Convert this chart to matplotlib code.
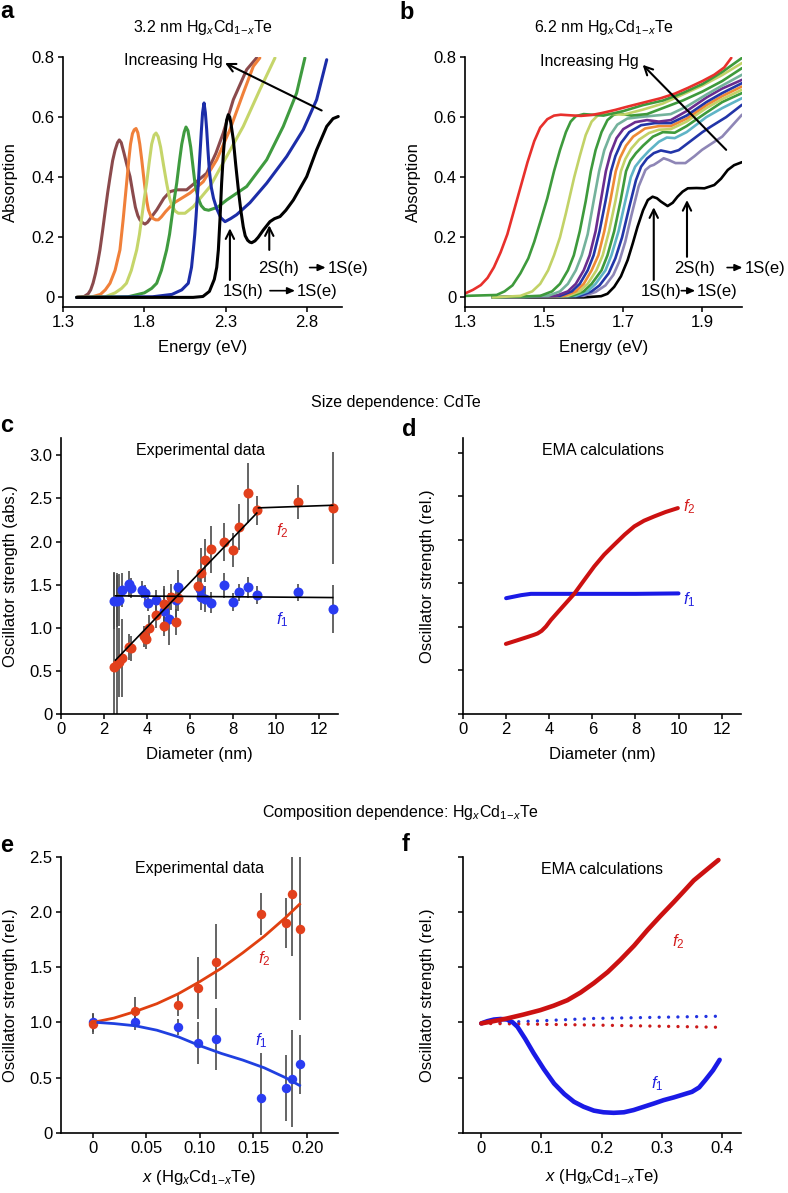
import matplotlib
matplotlib.use('Agg')
import matplotlib.pyplot as plt
from matplotlib.transforms import offset_copy

plt.rcParams['font.family'] = ['Liberation Sans', 'DejaVu Sans']
plt.rcParams['mathtext.fontset'] = 'custom'
plt.rcParams['mathtext.rm'] = 'Liberation Sans'
plt.rcParams['mathtext.it'] = 'Liberation Sans:italic'
plt.rcParams['mathtext.bf'] = 'Liberation Sans:bold'
plt.rcParams['axes.linewidth'] = 1.2

# ---- a: 3.2 nm absorption spectra (energy eV, absorption) ----
a_brown_E = [1.384, 1.43, 1.455, 1.47, 1.485, 1.50, 1.513, 1.527, 1.543, 1.56, 1.575, 1.589, 1.605, 1.62, 1.635,
             1.646, 1.658, 1.675, 1.693, 1.712, 1.73, 1.745, 1.76, 1.773, 1.79, 1.804, 1.82, 1.84, 1.876, 1.92,
             1.958, 2.0, 2.06, 2.12, 2.183, 2.24, 2.285, 2.347, 2.429, 2.49]
a_brown_A = [0.0, 0.003, 0.012, 0.025, 0.048, 0.08, 0.115, 0.158, 0.22, 0.29, 0.35, 0.40, 0.455, 0.49, 0.515,
             0.524, 0.515, 0.48, 0.44, 0.402, 0.345, 0.30, 0.272, 0.258, 0.248, 0.244, 0.25, 0.265, 0.291, 0.33,
             0.352, 0.358, 0.358, 0.385, 0.413, 0.48, 0.547, 0.658, 0.758, 0.797]
a_orange_E = [1.384, 1.48, 1.53, 1.56, 1.589, 1.62, 1.65, 1.67, 1.691, 1.705, 1.715, 1.727, 1.738, 1.749, 1.76,
              1.772, 1.784, 1.795, 1.805, 1.815, 1.825, 1.84, 1.855, 1.87, 1.886, 1.905, 1.93, 1.978, 2.08, 2.162,
              2.245, 2.326, 2.408, 2.47, 2.51]
a_orange_A = [0.0, 0.002, 0.01, 0.025, 0.047, 0.09, 0.158, 0.26, 0.38, 0.46, 0.51, 0.545, 0.558, 0.562, 0.548,
              0.51, 0.458, 0.405, 0.36, 0.32, 0.291, 0.27, 0.262, 0.258, 0.258, 0.268, 0.285, 0.313, 0.347, 0.385,
              0.458, 0.558, 0.68, 0.769, 0.797]
a_yg_E = [1.384, 1.56, 1.62, 1.66, 1.69, 1.72, 1.753, 1.77, 1.785, 1.80, 1.814, 1.83, 1.845, 1.86, 1.872, 1.885,
          1.90, 1.918, 1.937, 1.955, 1.97, 1.99, 2.009, 2.05, 2.101, 2.204, 2.306, 2.408, 2.51, 2.603]
a_yg_A = [0.0, 0.002, 0.015, 0.03, 0.047, 0.09, 0.158, 0.21, 0.27, 0.33, 0.38, 0.45, 0.51, 0.54, 0.547, 0.535,
          0.50, 0.44, 0.38, 0.33, 0.305, 0.287, 0.28, 0.28, 0.302, 0.369, 0.469, 0.569, 0.691, 0.797]
a_green_E = [1.384, 1.70, 1.80, 1.845, 1.876, 1.905, 1.937, 1.955, 1.97, 1.985, 1.999, 2.015, 2.03, 2.045, 2.056,
             2.068, 2.085, 2.098, 2.111, 2.13, 2.15, 2.17, 2.195, 2.25, 2.306, 2.429, 2.552, 2.654, 2.736, 2.787]
a_green_A = [0.0, 0.002, 0.015, 0.03, 0.047, 0.09, 0.158, 0.21, 0.27, 0.33, 0.38, 0.45, 0.51, 0.55, 0.567,
             0.555, 0.50, 0.44, 0.38, 0.33, 0.305, 0.293, 0.29, 0.30, 0.324, 0.369, 0.458, 0.569, 0.68, 0.797]
a_blue_E = [1.384, 1.85, 1.97, 2.03, 2.07, 2.09, 2.101, 2.11, 2.118, 2.125, 2.132, 2.14, 2.15, 2.158, 2.167,
            2.175, 2.183, 2.191, 2.20, 2.212, 2.225, 2.245, 2.27, 2.296, 2.33, 2.367, 2.449, 2.552, 2.675, 2.777,
            2.859, 2.921]
a_blue_A = [0.0, 0.002, 0.01, 0.025, 0.047, 0.1, 0.158, 0.21, 0.27, 0.33, 0.38, 0.46, 0.55, 0.615, 0.647,
            0.615, 0.56, 0.49, 0.42, 0.365, 0.33, 0.295, 0.265, 0.252, 0.262, 0.275, 0.315, 0.38, 0.469, 0.558,
            0.658, 0.791]
a_black_E = [1.384, 2.10, 2.16, 2.20, 2.23, 2.245, 2.255, 2.265, 2.275, 2.286, 2.296, 2.306, 2.316, 2.325, 2.332,
             2.347, 2.362, 2.378, 2.393, 2.408, 2.42, 2.435, 2.448, 2.46, 2.48, 2.50, 2.531, 2.572, 2.60, 2.634,
             2.67, 2.716, 2.798, 2.859, 2.921, 2.96, 2.992]
a_black_A = [0.0, 0.0, 0.003, 0.02, 0.06, 0.1, 0.158, 0.26, 0.38, 0.48, 0.547, 0.59, 0.608, 0.6, 0.58, 0.524,
             0.44, 0.358, 0.29, 0.235, 0.205, 0.19, 0.184, 0.182, 0.188, 0.2, 0.224, 0.252, 0.262, 0.269, 0.29,
             0.324, 0.402, 0.491, 0.569, 0.595, 0.602]

# ---- b: 6.2 nm absorption spectra ----
b_red_E = [1.30, 1.32, 1.34, 1.357, 1.373, 1.39, 1.407, 1.424, 1.441, 1.458, 1.475, 1.49, 1.508, 1.525, 1.542,
           1.565, 1.593, 1.62, 1.644, 1.68, 1.711, 1.75, 1.795, 1.83, 1.863, 1.90, 1.93, 1.955, 1.973]
b_red_A = [0.013, 0.025, 0.041, 0.065, 0.10, 0.15, 0.21, 0.29, 0.37, 0.45, 0.52, 0.565, 0.593, 0.605, 0.608,
           0.606, 0.604, 0.607, 0.613, 0.624, 0.635, 0.648, 0.663, 0.678, 0.697, 0.72, 0.741, 0.765, 0.797]
b_green1_E = [1.30, 1.38, 1.40, 1.42, 1.44, 1.46, 1.475, 1.49, 1.508, 1.525, 1.54, 1.555, 1.567, 1.58, 1.60,
              1.65, 1.70, 1.75, 1.80, 1.85, 1.90, 1.95, 2.0]
b_green1_A = [0.005, 0.008, 0.02, 0.04, 0.08, 0.13, 0.185, 0.25, 0.33, 0.42, 0.49, 0.55, 0.585, 0.603, 0.61,
              0.605, 0.62, 0.64, 0.655, 0.68, 0.71, 0.75, 0.797]
b_yg1_E = [1.37, 1.44, 1.47, 1.49, 1.51, 1.525, 1.54, 1.555, 1.576, 1.59, 1.605, 1.62, 1.635, 1.65, 1.70, 1.75,
           1.80, 1.85, 1.90, 1.95, 2.0]
b_yg1_A = [0.0, 0.005, 0.02, 0.045, 0.09, 0.14, 0.2, 0.28, 0.40, 0.47, 0.54, 0.585, 0.605, 0.612, 0.608, 0.625,
           0.645, 0.675, 0.705, 0.74, 0.78]
b_green2_E = [1.37, 1.49, 1.52, 1.54, 1.56, 1.575, 1.59, 1.605, 1.618, 1.63, 1.645, 1.66, 1.675, 1.69, 1.72,
              1.76, 1.80, 1.85, 1.90, 1.95, 2.0]
b_green2_A = [0.0, 0.005, 0.02, 0.045, 0.09, 0.14, 0.22, 0.32, 0.42, 0.49, 0.55, 0.59, 0.607, 0.612, 0.605,
              0.61, 0.63, 0.655, 0.685, 0.72, 0.763]
b_sage_E = [1.37, 1.51, 1.54, 1.56, 1.58, 1.595, 1.61, 1.625, 1.639, 1.652, 1.667, 1.685, 1.71, 1.74, 1.78,
            1.82, 1.86, 1.91, 1.95, 2.0]
b_sage_A = [0.0, 0.005, 0.02, 0.045, 0.09, 0.14, 0.21, 0.32, 0.42, 0.49, 0.54, 0.575, 0.595, 0.60, 0.605, 0.61,
            0.635, 0.675, 0.705, 0.741]
b_purple_E = [1.37, 1.53, 1.56, 1.58, 1.60, 1.615, 1.63, 1.643, 1.656, 1.668, 1.683, 1.70, 1.73, 1.76, 1.79,
              1.82, 1.86, 1.91, 1.95, 2.0]
b_purple_A = [0.0, 0.005, 0.02, 0.045, 0.09, 0.14, 0.22, 0.32, 0.42, 0.48, 0.53, 0.56, 0.583, 0.59, 0.585,
              0.59, 0.62, 0.665, 0.695, 0.724]
b_blue1_E = [1.37, 1.54, 1.57, 1.59, 1.61, 1.625, 1.64, 1.655, 1.669, 1.68, 1.695, 1.715, 1.745, 1.78, 1.82,
             1.86, 1.91, 1.95, 2.0]
b_blue1_A = [0.0, 0.005, 0.02, 0.045, 0.09, 0.14, 0.22, 0.32, 0.42, 0.47, 0.515, 0.55, 0.573, 0.58, 0.58,
             0.605, 0.65, 0.68, 0.713]
b_orange_E = [1.37, 1.55, 1.58, 1.60, 1.62, 1.637, 1.652, 1.667, 1.681, 1.692, 1.707, 1.725, 1.755, 1.79, 1.82,
              1.86, 1.91, 1.95, 2.0]
b_orange_A = [0.0, 0.005, 0.02, 0.045, 0.09, 0.14, 0.22, 0.32, 0.42, 0.465, 0.505, 0.535, 0.562, 0.57, 0.57,
              0.595, 0.64, 0.67, 0.702]
b_yg2_E = [1.37, 1.56, 1.59, 1.61, 1.632, 1.648, 1.664, 1.68, 1.694, 1.705, 1.72, 1.74, 1.765, 1.79, 1.82, 1.86,
           1.91, 1.95, 2.0]
b_yg2_A = [0.0, 0.005, 0.02, 0.045, 0.09, 0.14, 0.22, 0.32, 0.42, 0.46, 0.495, 0.525, 0.547, 0.558, 0.56, 0.585,
           0.63, 0.66, 0.691]
b_green3_E = [1.37, 1.57, 1.60, 1.62, 1.645, 1.66, 1.677, 1.693, 1.707, 1.718, 1.732, 1.75, 1.775, 1.80, 1.83,
              1.86, 1.91, 1.95, 2.0]
b_green3_A = [0.0, 0.005, 0.02, 0.045, 0.09, 0.14, 0.22, 0.32, 0.42, 0.455, 0.48, 0.505, 0.535, 0.55, 0.548,
              0.57, 0.615, 0.65, 0.68]
b_teal_E = [1.37, 1.58, 1.61, 1.63, 1.655, 1.67, 1.688, 1.705, 1.719, 1.73, 1.745, 1.765, 1.79, 1.81, 1.83, 1.86,
            1.91, 1.95, 2.0]
b_teal_A = [0.0, 0.005, 0.02, 0.045, 0.09, 0.14, 0.22, 0.32, 0.40, 0.435, 0.46, 0.488, 0.518, 0.532, 0.53, 0.55,
            0.60, 0.63, 0.663]
b_blue2_E = [1.37, 1.59, 1.62, 1.64, 1.663, 1.68, 1.697, 1.715, 1.732, 1.745, 1.76, 1.777, 1.795, 1.82, 1.84,
             1.863, 1.90, 1.922, 1.96, 2.0]
b_blue2_A = [0.0, 0.005, 0.02, 0.04, 0.08, 0.13, 0.2, 0.3, 0.39, 0.435, 0.462, 0.48, 0.489, 0.482, 0.49, 0.513,
             0.55, 0.569, 0.60, 0.641]
b_lav_E = [1.37, 1.60, 1.63, 1.655, 1.675, 1.69, 1.705, 1.72, 1.739, 1.756, 1.768, 1.777, 1.79, 1.802, 1.815,
           1.832, 1.857, 1.88, 1.899, 1.95, 2.0]
b_lav_A = [0.0, 0.005, 0.018, 0.04, 0.075, 0.12, 0.185, 0.27, 0.37, 0.424, 0.437, 0.441, 0.452, 0.463, 0.457,
           0.447, 0.447, 0.47, 0.491, 0.535, 0.608]
b_black_E = [1.37, 1.60, 1.644, 1.66, 1.677, 1.694, 1.711, 1.724, 1.736, 1.75, 1.762, 1.774, 1.785, 1.795, 1.812,
             1.825, 1.837, 1.85, 1.863, 1.885, 1.905, 1.93, 1.947, 1.964, 1.98, 2.0]
b_black_A = [0.0, 0.0, 0.004, 0.012, 0.035, 0.07, 0.124, 0.18, 0.235, 0.29, 0.324, 0.335, 0.33, 0.319, 0.304,
             0.315, 0.335, 0.352, 0.363, 0.364, 0.363, 0.374, 0.395, 0.424, 0.44, 0.45]

# ---- c: size dependence, experimental (diameter nm) ----
c_f2_d = [2.46, 2.62, 2.72, 2.85, 3.17, 3.25, 3.87, 3.95, 4.08, 4.42, 4.78, 4.78, 5.13, 5.36, 5.44, 6.38, 6.54,
          6.72, 6.97, 7.59, 8.02, 8.29, 8.70, 9.15, 11.03, 12.65]
c_f2 = [0.55, 0.58, 0.60, 0.65, 0.78, 0.76, 0.90, 0.87, 1.00, 1.15, 1.28, 1.02, 1.36, 1.07, 1.34, 1.48, 1.64,
        1.78, 1.91, 1.99, 1.90, 2.17, 2.56, 2.36, 2.46, 2.39]
c_f2_err = [1.1, 1.05, 0.4, 0.45, 0.15, 0.15, 0.12, 0.12, 0.15, 0.15, 0.2, 0.12, 0.15, 0.15, 0.15, 0.15, 0.28,
            0.25, 0.27, 0.22, 0.2, 0.27, 0.35, 0.17, 0.2, 0.65]
c_f1_d = [2.46, 2.62, 2.71, 2.85, 3.17, 3.28, 3.79, 3.92, 4.03, 4.42, 4.81, 5.05, 5.36, 5.44, 6.46, 6.54, 6.72,
          6.97, 7.59, 8.02, 8.29, 8.70, 9.15, 11.03, 12.65]
c_f1 = [1.31, 1.31, 1.32, 1.44, 1.51, 1.46, 1.44, 1.40, 1.29, 1.32, 1.20, 1.10, 1.32, 1.47, 1.45, 1.36, 1.33,
        1.29, 1.49, 1.30, 1.41, 1.47, 1.38, 1.41, 1.22]
c_f1_err = [0.33, 0.3, 0.3, 0.2, 0.15, 0.12, 0.1, 0.1, 0.1, 0.12, 0.25, 0.3, 0.2, 0.2, 0.15, 0.15, 0.15, 0.12,
            0.15, 0.1, 0.1, 0.12, 0.1, 0.1, 0.28]
c_fit2_d = [2.54, 9.12]
c_fit2 = [0.625, 2.33]
c_fit2b_d = [9.2, 12.65]
c_fit2b = [2.39, 2.42]
c_fit1_d = [2.54, 12.65]
c_fit1 = [1.37, 1.35]

# ---- d: size dependence, EMA ----
d_f2_d = [1.99, 2.5, 3.0, 3.3, 3.46, 3.65, 3.85, 4.08, 4.6, 5.16, 5.6, 6.09, 6.55, 7.02, 7.5, 7.95, 8.4, 8.88,
          9.4, 9.97]
d_f2 = [1.61, 1.69, 1.77, 1.82, 1.85, 1.91, 2.01, 2.16, 2.45, 2.76, 3.06, 3.39, 3.66, 3.89, 4.12, 4.31, 4.44,
        4.54, 4.64, 4.73]
d_f1_d = [2.0, 2.3, 2.7, 3.15, 5.0, 8.0, 10.0]
d_f1 = [2.66, 2.69, 2.73, 2.76, 2.76, 2.76, 2.77]

# ---- e: composition dependence, experimental ----
e_x = [0.0, 0.04, 0.0797, 0.098, 0.115, 0.157, 0.18, 0.186, 0.193]
e_f2 = [0.99, 1.105, 1.16, 1.316, 1.55, 1.98, 1.90, 2.16, 1.85]
e_f2_err = [0.09, 0.13, 0.1, 0.28, 0.34, 0.19, 0.23, 0.56, 0.83]
e_f1 = [1.0, 1.0, 0.96, 0.81, 0.85, 0.32, 0.41, 0.49, 0.62]
e_f1_err = [0.09, 0.07, 0.07, 0.19, 0.28, 0.4, 0.3, 0.44, 0.27]
e_fit2_x = [0.0, 0.02, 0.04, 0.06, 0.08, 0.10, 0.12, 0.14, 0.16, 0.18, 0.193]
e_fit2 = [1.0, 1.04, 1.10, 1.17, 1.26, 1.37, 1.49, 1.63, 1.78, 1.95, 2.07]
e_fit1_x = [0.005, 0.02, 0.04, 0.06, 0.08, 0.10, 0.12, 0.14, 0.16, 0.18, 0.193]
e_fit1 = [1.0, 0.99, 0.97, 0.93, 0.87, 0.79, 0.72, 0.66, 0.59, 0.50, 0.43]

# ---- f: composition dependence, EMA ----
f_f2_x = [0.0, 0.02, 0.043, 0.07, 0.098, 0.12, 0.143, 0.165, 0.187, 0.21, 0.231, 0.254, 0.276, 0.298, 0.32,
          0.337, 0.353, 0.374, 0.394]
f_f2 = [1.98, 2.02, 2.07, 2.14, 2.22, 2.30, 2.40, 2.54, 2.71, 2.91, 3.13, 3.39, 3.67, 3.93, 4.18, 4.38, 4.57,
        4.76, 4.94]
f_f1_x = [0.0, 0.01, 0.021, 0.032, 0.043, 0.052, 0.06, 0.073, 0.087, 0.104, 0.121, 0.138, 0.154, 0.17, 0.187,
          0.203, 0.22, 0.237, 0.253, 0.27, 0.287, 0.303, 0.32, 0.335, 0.35, 0.362, 0.372, 0.385, 0.396]
f_f1 = [1.98, 2.02, 2.05, 2.06, 2.05, 2.0, 1.92, 1.70, 1.44, 1.15, 0.89, 0.70, 0.56, 0.47, 0.40, 0.37, 0.36,
        0.37, 0.41, 0.47, 0.53, 0.59, 0.64, 0.69, 0.74, 0.82, 0.95, 1.13, 1.32]
f_f1dot_x = [0.0, 0.187, 0.394]
f_f1dot = [1.98, 2.07, 2.11]
f_f2dot_x = [0.0, 0.187, 0.394]
f_f2dot = [1.98, 1.95, 1.91]

RED = '#e2401c'
BLUE = '#2a3cf2'
RED_L = '#d41f1f'
BLUE_L = '#2222e0'
ERR = '#4a4a4a'

W, H = 788, 1193
fig = plt.figure(figsize=(W / 100, H / 100), dpi=100)


def add_ax(left, top, right, bottom):
    return fig.add_axes([left / W, 1 - bottom / H, (right - left) / W, (bottom - top) / H])


def style(ax):
    for s in ['top', 'right']:
        ax.spines[s].set_visible(False)
    ax.tick_params(direction='out', length=3.5, width=1.1, labelsize=12, pad=2.5)


def arrow(ax, tail, tip):
    ax.annotate('', xy=tip, xytext=tail,
                arrowprops=dict(arrowstyle='->', lw=1.5, color='k', shrinkA=0, shrinkB=0,
                                mutation_scale=15))


def transition(ax, x, y, left, a0, a1, right):
    # "left -> right" with a drawn arrow; offsets in points from the anchor
    ax.text(x, y, left, fontsize=12, ha='left', va='center')
    t0 = offset_copy(ax.transData, fig=fig, x=a0, y=0.5, units='points')
    t1 = offset_copy(ax.transData, fig=fig, x=a1, y=0.5, units='points')
    ax.annotate('', xy=(x, y), xycoords=t1, xytext=(x, y), textcoords=t0,
                arrowprops=dict(arrowstyle='-|>,head_length=0.45,head_width=0.2', lw=1.2, color='k',
                                shrinkA=0, shrinkB=0, mutation_scale=10))
    ax.annotate(right, (x, y), xytext=(a1 + 1.5, 0), textcoords='offset points', fontsize=12,
                ha='left', va='center')


# panel a
ax = add_ax(63, 57, 342, 306.7)
style(ax)
for E, A, c in [(a_brown_E, a_brown_A, '#8b4a4c'), (a_orange_E, a_orange_A, '#f0803a'),
                (a_yg_E, a_yg_A, '#c5d56a'), (a_green_E, a_green_A, '#3f9b3f'),
                (a_blue_E, a_blue_A, '#1c2da8'), (a_black_E, a_black_A, 'k')]:
    ax.plot(E, A, color=c, lw=2.2, solid_capstyle='round', solid_joinstyle='round')
ax.set_xlim(1.3, 3.015)
ax.set_ylim(-0.031, 0.8)
ax.set_xticks([1.3, 1.8, 2.3, 2.8])
ax.set_yticks([0, 0.2, 0.4, 0.6, 0.8])
ax.set_yticklabels(['0', '0.2', '0.4', '0.6', '0.8'])
ax.set_xlabel('Energy (eV)', fontsize=12)
ax.set_ylabel('Absorption', fontsize=12)
ax.xaxis.set_label_coords(0.5, -0.135)
ax.yaxis.set_label_coords(-0.16, 0.5)
ax.set_title('3.2 nm Hg$_x$Cd$_{1\\!-\\!x}$Te', fontsize=11.5, pad=18)
ax.text(2.28, 0.79, 'Increasing Hg', fontsize=11.5, ha='right', va='center')
arrow(ax, (2.89, 0.622), (2.296, 0.78))
transition(ax, 2.282, 0.02, '1S(h)', 34, 52, '1S(e)')
arrow(ax, (2.326, 0.058), (2.326, 0.23))
transition(ax, 2.50, 0.097, '2S(h)', 37, 48.5, '1S(e)')
arrow(ax, (2.568, 0.158), (2.568, 0.24))

# panel b
ax = add_ax(465, 57, 742, 306.7)
style(ax)
b_curves = [(b_black_E, b_black_A, 'k'), (b_lav_E, b_lav_A, '#8e86b6'), (b_blue2_E, b_blue2_A, '#2235a8'),
            (b_teal_E, b_teal_A, '#5fb4c6'), (b_green3_E, b_green3_A, '#3e9a3c'),
            (b_yg2_E, b_yg2_A, '#c2d267'), (b_orange_E, b_orange_A, '#ee8a35'),
            (b_blue1_E, b_blue1_A, '#2235a8'), (b_purple_E, b_purple_A, '#6b2d8f'),
            (b_sage_E, b_sage_A, '#74b29c'), (b_green2_E, b_green2_A, '#3e9a3c'),
            (b_yg1_E, b_yg1_A, '#c2d267'), (b_green1_E, b_green1_A, '#3e9a3c'),
            (b_red_E, b_red_A, '#e8302c')]
for E, A, c in b_curves:
    ax.plot(E, A, color=c, lw=1.9, solid_capstyle='round', solid_joinstyle='round')
ax.set_xlim(1.3, 2.0)
ax.set_ylim(-0.031, 0.8)
ax.set_xticks([1.3, 1.5, 1.7, 1.9])
ax.set_yticks([0, 0.2, 0.4, 0.6, 0.8])
ax.set_yticklabels(['0', '0.2', '0.4', '0.6', '0.8'])
ax.set_xlabel('Energy (eV)', fontsize=12)
ax.set_ylabel('Absorption', fontsize=12)
ax.xaxis.set_label_coords(0.5, -0.135)
ax.yaxis.set_label_coords(-0.16, 0.5)
ax.set_title('6.2 nm Hg$_x$Cd$_{1\\!-\\!x}$Te', fontsize=11.5, pad=18)
ax.text(1.74, 0.785, 'Increasing Hg', fontsize=11.5, ha='right', va='center')
arrow(ax, (1.96, 0.491), (1.749, 0.774))
transition(ax, 1.743, 0.02, '1S(h)', 29.5, 39.5, '1S(e)')
arrow(ax, (1.777, 0.058), (1.777, 0.30))
transition(ax, 1.829, 0.097, '2S(h)', 38, 49, '1S(e)')
arrow(ax, (1.861, 0.135), (1.861, 0.324))

# panel c
ax = add_ax(61, 438, 338, 714)
style(ax)
ax.errorbar(c_f1_d, c_f1, yerr=c_f1_err, fmt='none', ecolor=ERR, elinewidth=1.2)
ax.errorbar(c_f2_d, c_f2, yerr=c_f2_err, fmt='none', ecolor=ERR, elinewidth=1.2)
ax.plot(c_f1_d, c_f1, 'o', color=BLUE, ms=7.2, mew=0)
ax.plot(c_f2_d, c_f2, 'o', color=RED, ms=7.2, mew=0)
ax.plot(c_fit2_d, c_fit2, color='k', lw=1.2)
ax.plot(c_fit2b_d, c_fit2b, color='k', lw=1.2)
ax.plot(c_fit1_d, c_fit1, color='k', lw=1.2)
ax.set_xlim(0, 12.9)
ax.set_ylim(0, 3.2)
ax.set_xticks(range(0, 13, 2))
ax.set_yticks([0, 0.5, 1.0, 1.5, 2.0, 2.5, 3.0])
ax.set_yticklabels(['0', '0.5', '1.0', '1.5', '2.0', '2.5', '3.0'])
ax.set_xlabel('Diameter (nm)', fontsize=12)
ax.set_ylabel('Oscillator strength (abs.)', fontsize=12)
ax.xaxis.set_label_coords(0.5, -0.12)
ax.yaxis.set_label_coords(-0.155, 0.5)
ax.text(6.5, 3.05, 'Experimental data', fontsize=11.5, ha='center', va='center')
ax.text(10.3, 2.13, '$f_2$', color=RED_L, fontsize=12, ha='center', va='center')
ax.text(10.3, 1.09, '$f_1$', color=BLUE_L, fontsize=12, ha='center', va='center')

# panel d
ax = add_ax(463, 438, 741, 714)
style(ax)
ax.plot(d_f1_d, d_f1, color='#1a1ae6', lw=2.9, solid_capstyle='round', solid_joinstyle='round')
ax.plot(d_f2_d, d_f2, color='#cc1111', lw=2.9, solid_capstyle='round', solid_joinstyle='round')
ax.set_xlim(0, 12.9)
ax.set_ylim(0, 6.34)
ax.set_xticks(range(0, 13, 2))
ax.set_yticks(range(0, 7))
ax.set_yticklabels([])
ax.set_xlabel('Diameter (nm)', fontsize=12)
ax.set_ylabel('Oscillator strength (rel.)', fontsize=12)
ax.xaxis.set_label_coords(0.5, -0.12)
ax.yaxis.set_label_coords(-0.1, 0.5)
ax.text(6.48, 6.05, 'EMA calculations', fontsize=11.5, ha='center', va='center')
ax.text(10.5, 4.77, '$f_2$', color=RED_L, fontsize=12, ha='center', va='center')
ax.text(10.5, 2.62, '$f_1$', color=BLUE_L, fontsize=12, ha='center', va='center')

# panel e
ax = add_ax(61, 856.7, 338, 1133)
style(ax)
ax.errorbar(e_x, e_f1, yerr=e_f1_err, fmt='none', ecolor=ERR, elinewidth=1.2)
ax.errorbar(e_x, e_f2, yerr=e_f2_err, fmt='none', ecolor=ERR, elinewidth=1.2)
ax.plot(e_x, e_f1, 'o', color=BLUE, ms=6.8, mew=0)
ax.plot(e_x, e_f2, 'o', color=RED, ms=6.8, mew=0)
ax.plot(e_fit2_x, e_fit2, color='#e04010', lw=2.0)
ax.plot(e_fit1_x, e_fit1, color='#2040e0', lw=2.0)
ax.set_xlim(-0.0294, 0.2288)
ax.set_ylim(0, 2.5)
ax.set_xticks([0, 0.05, 0.10, 0.15, 0.20])
ax.set_xticklabels(['0', '0.05', '0.10', '0.15', '0.20'])
ax.set_yticks([0, 0.5, 1.0, 1.5, 2.0, 2.5])
ax.set_yticklabels(['0', '0.5', '1.0', '1.5', '2.0', '2.5'])
ax.set_xlabel('$x$ (Hg$_x$Cd$_{1\\!-\\!x}$Te)', fontsize=12)
ax.set_ylabel('Oscillator strength (rel.)', fontsize=12)
ax.xaxis.set_label_coords(0.5, -0.125)
ax.yaxis.set_label_coords(-0.155, 0.5)
ax.text(0.1, 2.39, 'Experimental data', fontsize=11.5, ha='center', va='center')
ax.text(0.160, 1.58, '$f_2$', color=RED_L, fontsize=12, ha='center', va='center')
ax.text(0.157, 0.84, '$f_1$', color=BLUE_L, fontsize=12, ha='center', va='center')

# panel f
ax = add_ax(463, 856.7, 741.3, 1132.7)
style(ax)
ax.plot(f_f1dot_x, f_f1dot, color='#2233e0', lw=2.4, ls=(0, (0.01, 2.8)), dash_capstyle='round')
ax.plot(f_f2dot_x, f_f2dot, color='#cc1a1a', lw=2.4, ls=(0, (0.01, 2.8)), dash_capstyle='round')
ax.plot(f_f1_x, f_f1, color='#1a1ae6', lw=3.3, solid_capstyle='round', solid_joinstyle='round')
ax.plot(f_f2_x, f_f2, color='#cc1111', lw=3.3, solid_capstyle='round', solid_joinstyle='round')
ax.set_xlim(-0.0304, 0.432)
ax.set_ylim(0, 5)
ax.set_xticks([0, 0.1, 0.2, 0.3, 0.4])
ax.set_xticklabels(['0', '0.1', '0.2', '0.3', '0.4'])
ax.set_yticks(range(0, 6))
ax.set_yticklabels([])
ax.set_xlabel('$x$ (Hg$_x$Cd$_{1\\!-\\!x}$Te)', fontsize=12)
ax.set_ylabel('Oscillator strength (rel.)', fontsize=12)
ax.xaxis.set_label_coords(0.5, -0.125)
ax.yaxis.set_label_coords(-0.1, 0.5)
ax.text(0.2, 4.76, 'EMA calculations', fontsize=11.5, ha='center', va='center')
ax.text(0.328, 3.46, '$f_2$', color=RED_L, fontsize=12, ha='center', va='center')
ax.text(0.292, 0.89, '$f_1$', color=BLUE_L, fontsize=12, ha='center', va='center')

# section headings and panel letters
fig.text(396 / W, 1 - 402 / H, 'Size dependence: CdTe', fontsize=11.5, ha='center', va='center')
fig.text(400 / W, 1 - 813 / H, 'Composition dependence: Hg$_x$Cd$_{1\\!-\\!x}$Te', fontsize=11.5,
         ha='center', va='center')
for lab, x, y in [('a', 0, 18), ('b', 399, 19), ('c', 0, 432), ('d', 402, 436), ('e', 0, 852), ('f', 402, 851)]:
    fig.text(x / W, 1 - y / H, lab, fontsize=17, fontweight='bold', ha='left', va='baseline')

fig.savefig('out.png', dpi=100)
